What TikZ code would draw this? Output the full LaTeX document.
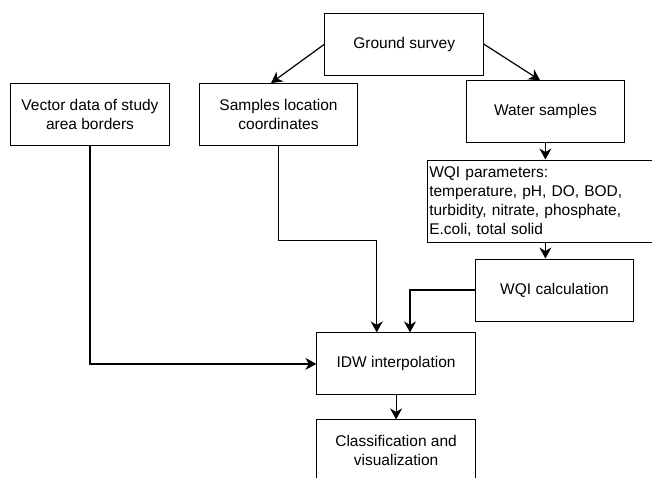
\documentclass[tikz,border=0pt]{standalone}
\usepackage{fontspec}
\setmainfont{Liberation Sans}
\usetikzlibrary{arrows.meta, positioning}

\begin{document}
\begin{tikzpicture}[
    x=1pt, y=-1pt,
    font=\fontsize{15.5}{19}\selectfont,
    node distance=24pt and 29pt,
    block/.style={draw, line width=1pt, align=center, minimum width=158.5pt, minimum height=62pt, inner sep=2pt},
    params/.style={draw, line width=1pt, align=left, text width=250pt, minimum height=82.8pt, inner xsep=1.5pt, inner ysep=2pt, anchor=north west},
    arrow/.style={-{Stealth[length=11pt, width=12pt, inset=3.5pt]}, line width=1.2pt}
]
\useasboundingbox (0,0) rectangle (652,477);

\node[block] (survey) at (404.2,44.2) {Ground survey};
\node[block] (vector) at (90,114.5) {Vector data of study\\area borders};
\node[block, right=of vector] (location) {Samples location\\coordinates};
\node[block] (water) at (545.4,111.7) {Water samples};
\node[params] (wqipar) at (427.3,159.5) {WQI parameters:\\temperature, pH, DO, BOD,\\turbidity, nitrate, phosphate,\\E.coli, total solid};
\node[block] (wqicalc) at (554.5,290) {WQI calculation};
\node[block] (idw) at (396.1,363.9) {IDW interpolation};
\node[block, below=of idw] (classify) {Classification and\\visualization};

\draw[arrow] (survey.west) -- ([xshift=-7.4pt]location.north);
\draw[arrow] (survey.east) -- ([xshift=-5.4pt]water.north);
\draw[arrow] (water.south) -- (water |- wqipar.north);
\draw[arrow] (wqipar.south -| water) -- (wqicalc.north -| water);
\draw[arrow] (vector.south) |- (idw.west);
\draw[arrow] (location.south) -- ++(0,94.7) -| ([xshift=-19.4pt]idw.north);
\draw[arrow] (wqicalc.west) -| ([xshift=13.9pt]idw.north);
\draw[arrow] (idw) -- (classify);
\end{tikzpicture}
\end{document}
